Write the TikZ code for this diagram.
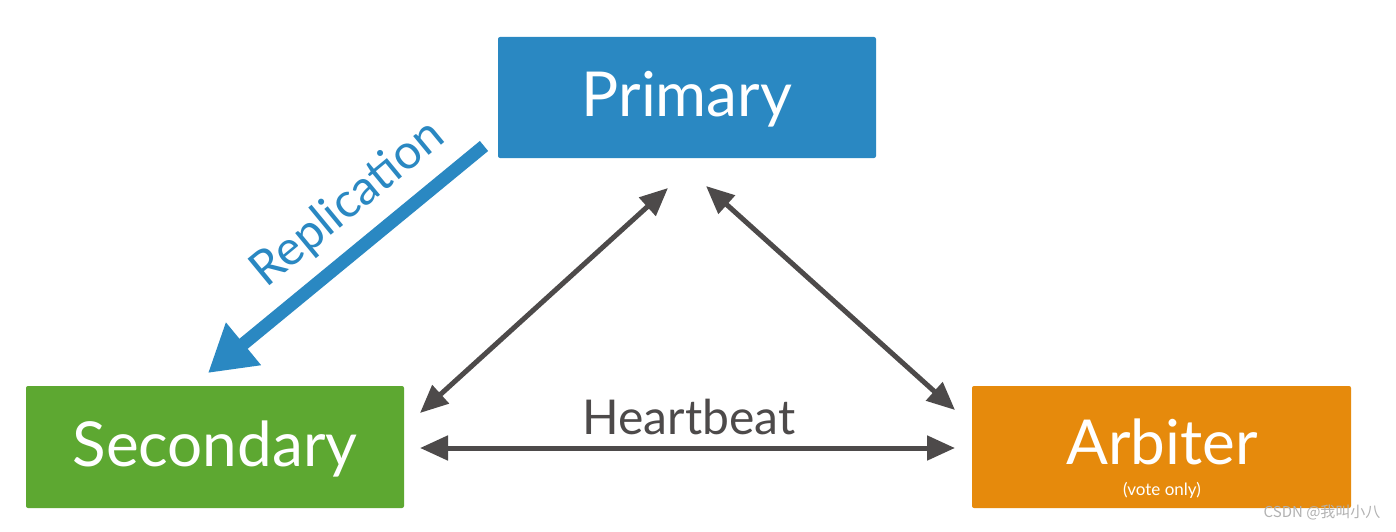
\documentclass[tikz,border=0pt]{standalone}
\usepackage{fontspec}
\setmainfont{Lato}
\newfontfamily\cjk{Noto Sans CJK SC}
\usetikzlibrary{arrows.meta}
\definecolor{pblue}{HTML}{2A88C2}
\definecolor{sgreen}{HTML}{5DA831}
\definecolor{aorange}{HTML}{E68A0C}
\definecolor{dgray}{HTML}{4D4A4A}
\begin{document}
\begin{tikzpicture}[x=1pt,y=-1pt,
  box/.style={rounded corners=2pt,text=white,font=\fontsize{62}{64}\selectfont,inner sep=0pt},
  hb/.style={dgray,line width=5pt,{Triangle[length=28pt,width=24pt]}-{Triangle[length=28pt,width=24pt]}}]
\useasboundingbox (0,0) rectangle (1396,532);
\fill[white] (0,0) rectangle (1396,532);
\fill[pblue,rounded corners=2pt] (498,37) rectangle (876,158);
\node[box] (p) at (687,99) {Primary};
\fill[sgreen,rounded corners=2pt] (26,386) rectangle (404,508);
\node[box] (s) at (215,449) {Secondary};
\fill[aorange,rounded corners=2pt] (972,386) rectangle (1351,508);
\node[box] (a) at (1162,442) {Arbiter};
\node[text=white,font=\fontsize{17}{18}\selectfont] (v) at (1162,490) {(vote only)};
\coordinate (p1) at (668,188);
\coordinate (s1) at (420,413);
\coordinate (p2) at (706,186);
\coordinate (a1) at (955,410);
\coordinate (s2) at (420,448);
\coordinate (a2) at (955,448);
\draw[hb] (p1) -- (s1);
\draw[hb] (p2) -- (a1);
\draw[hb] (s2) -- (a2);
\node[text=dgray,font=\fontsize{48}{50}\selectfont] (h) at (689,417) {Heartbeat};
\coordinate (r1) at (484,146);
\coordinate (r2) at (208,373);
\draw[pblue,line width=13pt,-{Triangle[length=46pt,width=52pt]}] (r1) -- (r2);
\node[text=pblue,font=\fontsize{48}{50}\selectfont,rotate=39.5] (r) at (348,204) {Replication};
\node[text=gray!60,font=\cjk\fontsize{15}{16}\selectfont,anchor=east] (w) at (1384,513) {CSDN @我叫小八};
\end{tikzpicture}
\end{document}
